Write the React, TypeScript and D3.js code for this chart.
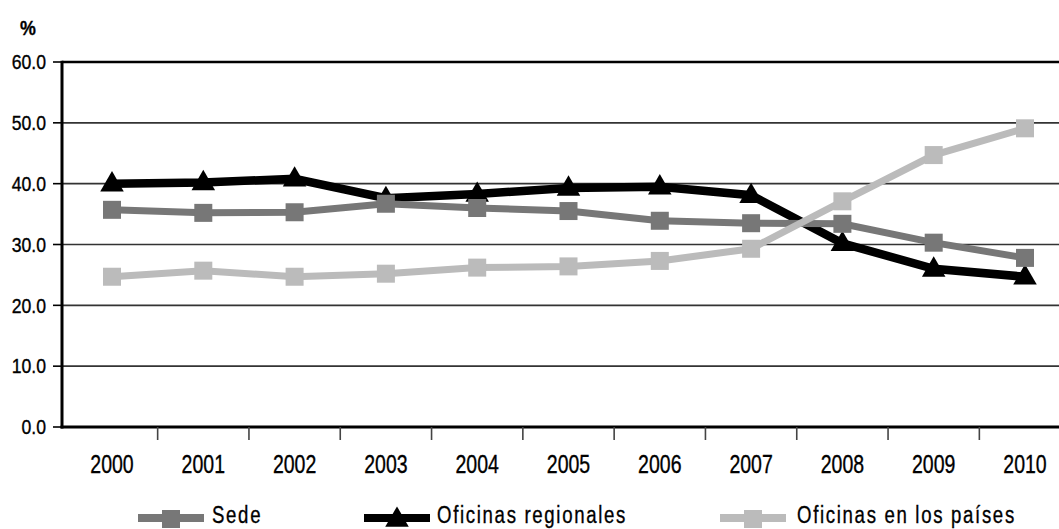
import { useEffect } from 'react';
import type { ReactNode } from 'react';
import * as d3 from 'd3';

const years = ['2000', '2001', '2002', '2003', '2004', '2005', '2006', '2007', '2008', '2009', '2010'];
const sede = [35.7, 35.2, 35.3, 36.7, 36.0, 35.5, 33.9, 33.5, 33.4, 30.3, 27.8];
const regionales = [40.0, 40.2, 40.8, 37.6, 38.3, 39.3, 39.5, 38.1, 30.2, 26.0, 24.7];
const paises = [24.7, 25.7, 24.7, 25.2, 26.2, 26.4, 27.3, 29.3, 37.1, 44.7, 49.1];
const yTicks = [0, 10, 20, 30, 40, 50, 60];

const FONT = "'Liberation Sans', Arial, sans-serif";

const W = 1059;
const H = 529;
const margin = { top: 62, bottom: 102, left: 62 };

type Series = { name: string; values: number[]; color: string; width: number; marker: 'square' | 'triangle' };

// draw order: black first, then Sede, light gray on top
const series: Series[] = [
  { name: 'Oficinas regionales', values: regionales, color: '#000000', width: 8.5, marker: 'triangle' },
  { name: 'Sede', values: sede, color: '#777777', width: 7, marker: 'square' },
  { name: 'Oficinas en los países', values: paises, color: '#bbbbbb', width: 7, marker: 'square' },
];

const legendOrder = [
  { s: series[1], x: 138, tx: 212 },
  { s: series[0], x: 364, tx: 437 },
  { s: series[2], x: 720, tx: 797 },
];

// condensed text: regular face squeezed horizontally
function CText({
  x,
  y,
  size,
  anchor = 'start',
  weight = 400,
  spacing = 0,
  squeeze = 0.78,
  children,
}: {
  x: number;
  y: number;
  size: number;
  anchor?: 'start' | 'middle' | 'end';
  weight?: number;
  spacing?: number;
  squeeze?: number;
  children: ReactNode;
}) {
  return (
    <g transform={`translate(${x},${y}) scale(${squeeze},1)`}>
      <text
        x={0}
        y={0}
        textAnchor={anchor}
        fontFamily={FONT}
        fontSize={size}
        fontWeight={weight}
        letterSpacing={spacing}
        fill="#000"
        stroke="#000"
        strokeWidth={0.35}
      >
        {children}
      </text>
    </g>
  );
}

function Marker({ kind, cx, cy, color }: { kind: 'square' | 'triangle'; cx: number; cy: number; color: string }) {
  if (kind === 'square') {
    return <rect x={cx - 9} y={cy - 9} width={18} height={18} fill={color} />;
  }
  const tri = d3.symbol(d3.symbolTriangle, 240)();
  return <path d={tri ?? ''} transform={`translate(${cx},${cy + 1})`} fill={color} />;
}

export default function App() {
  useEffect(() => {
    document.body.style.margin = '0';
  }, []);

  const x = d3.scalePoint<string>().domain(years).range([112, 1025]);

  const y = d3
    .scaleLinear()
    .domain([0, 60])
    .range([H - margin.bottom, margin.top]);

  const line = d3
    .line<number>()
    .x((_, i) => x(years[i])!)
    .y((d) => y(d));

  const step = x.step();
  const tickXs = years.slice(1).map((yr) => x(yr)! - step / 2);
  const x0 = margin.left;
  const x1 = W + 5;
  const yBottom = y(0);

  return (
    <svg width={W} height={H} style={{ display: 'block', background: '#fff' }}>
      {/* % label */}
      <CText x={20} y={35} size={21} weight={700} squeeze={0.85}>
        %
      </CText>

      {/* Grid lines */}
      {yTicks.slice(1, -1).map((t) => (
        <line key={t} x1={x0} x2={x1} y1={y(t)} y2={y(t)} stroke="#333" strokeWidth={1.6} />
      ))}

      {/* Frame top */}
      <line x1={x0} x2={x1} y1={y(60)} y2={y(60)} stroke="#000" strokeWidth={2.5} />

      {/* Y ticks + labels */}
      {yTicks.map((t) => (
        <g key={t}>
          <line x1={x0 - 9} x2={x0} y1={y(t)} y2={y(t)} stroke="#000" strokeWidth={1.6} />
          <CText x={46} y={y(t) + 7.3} size={20.5} anchor="end" squeeze={0.86}>
            {t.toFixed(1)}
          </CText>
        </g>
      ))}

      {/* Axes */}
      <line x1={x0} x2={x0} y1={y(60) - 1.2} y2={yBottom + 1.5} stroke="#000" strokeWidth={3} />
      <line x1={x0 - 1.5} x2={x1} y1={yBottom} y2={yBottom} stroke="#000" strokeWidth={3} />

      {/* X ticks between categories */}
      {tickXs.map((tx, i) => (
        <line key={i} x1={tx} x2={tx} y1={yBottom} y2={yBottom + 13} stroke="#444" strokeWidth={1.6} />
      ))}
      {years.map((yr) => (
        <CText key={yr} x={x(yr)!} y={473} size={25} anchor="middle">
          {yr}
        </CText>
      ))}

      {/* Series */}
      {series.map((s) => (
        <g key={s.name}>
          <path d={line(s.values) ?? ''} fill="none" stroke={s.color} strokeWidth={s.width} strokeLinejoin="miter" />
          {s.values.map((v, i) => (
            <Marker key={i} kind={s.marker} cx={x(years[i])!} cy={y(v)} color={s.color} />
          ))}
        </g>
      ))}

      {/* Legend */}
      {legendOrder.map(({ s, x: lx, tx }) => (
        <g key={s.name}>
          <line x1={lx} x2={lx + 66} y1={518} y2={518} stroke={s.color} strokeWidth={8} />
          <Marker kind={s.marker} cx={lx + 33} cy={519} color={s.color} />
          <CText x={tx} y={523} size={24.5} spacing={2.2} squeeze={0.76}>
            {s.name}
          </CText>
        </g>
      ))}
    </svg>
  );
}
